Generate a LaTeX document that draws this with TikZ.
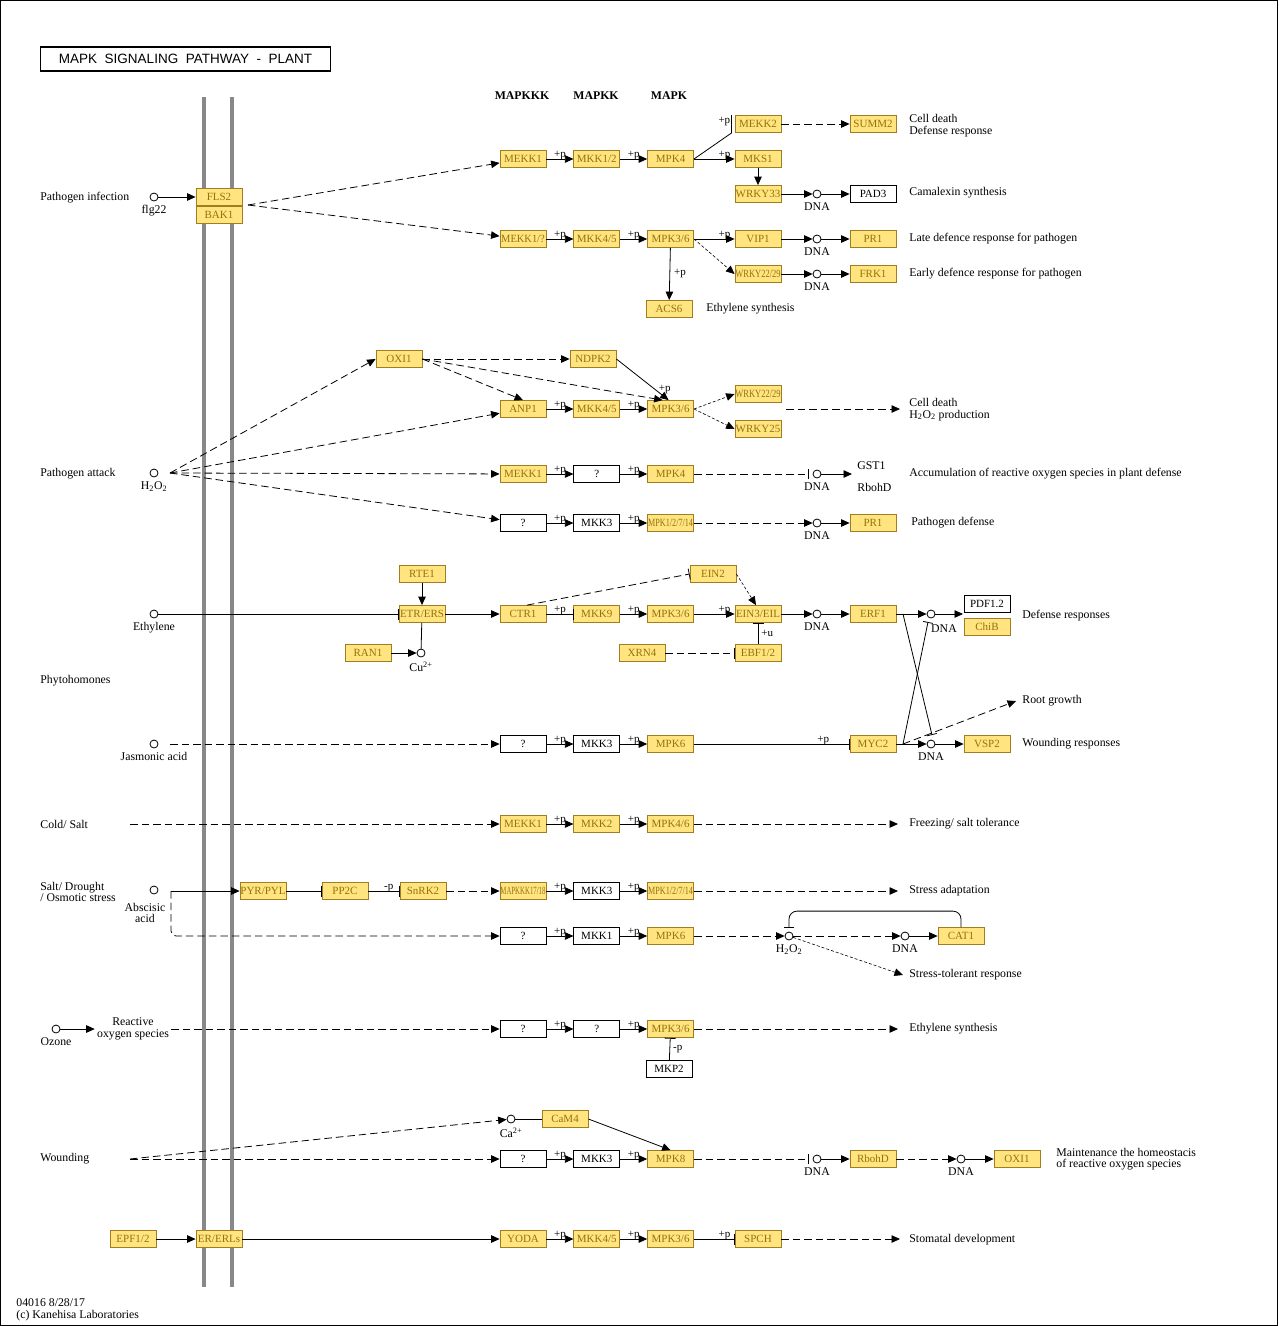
\documentclass[tikz,border=0pt]{standalone}
\usepackage{fontspec}
\setmainfont{Liberation Serif}
\newfontfamily\titlefont{Liberation Sans}
\usepackage{graphicx}
\usetikzlibrary{arrows.meta, positioning}
\definecolor{keggfill}{RGB}{255,228,128}
\definecolor{keggline}{RGB}{160,125,30}
\definecolor{keggtext}{RGB}{150,115,10}
\definecolor{membrane}{RGB}{136,136,136}
\newcommand{\gfont}{\fontsize{11}{11}\selectfont}
\newcommand{\lfont}{\fontsize{11.8}{11.5}\selectfont}
\newcommand{\sq}[2]{\scalebox{#1}[1]{#2}}

\begin{document}
\begin{tikzpicture}[
        x=1pt, y=-1pt,
        line width=0.8pt,
        node distance=27pt,
        gene/.style={rectangle, draw=keggline, fill=keggfill, text=keggtext, minimum width=46pt, minimum height=17pt, inner sep=0pt, font=\gfont},
        wbox/.style={rectangle, draw, fill=white, minimum width=46pt, minimum height=17pt, inner sep=0pt, font=\gfont},
        cpd/.style={circle, draw, fill=white, minimum size=8pt, inner sep=0pt},
        lbl/.style={font=\lfont, inner sep=0pt, anchor=west, align=left},
        txt/.style={font=\lfont, inner sep=0pt, align=center},
        plab/.style={font=\gfont, inner sep=0pt, anchor=base, yshift=2pt},
        act/.style={-{Triangle[length=8.5pt, width=7.5pt]}},
        inh/.style={-{Bar[width=11pt]}},
        dsh/.style={dash pattern=on 7.5pt off 4pt},
        dotln/.style={dash pattern=on 3pt off 2pt, line width=0.6pt},
        membr/.style={draw=membrane, line width=4pt}
    ]
    \useasboundingbox (0,0) rectangle (1278,1326);
    \draw[line width=1pt] (0.5,0.5) rectangle (1277.5,1325.5);

    % title and membrane
    \node (title) [draw, line width=1.6pt, minimum width=290pt, minimum height=24pt, inner sep=0pt, font=\titlefont\fontsize{13.5}{13.5}\selectfont] at (185.5,59) {MAPK\ \ SIGNALING\ \ PATHWAY\ \ -\ \ PLANT};
    \draw[membr] (204,97) -- (204,1287);
    \draw[membr] (232,97) -- (232,1287);

    \node[txt, font=\lfont\bfseries] at (522,96) {MAPKKK};
    \node[txt, font=\lfont\bfseries] at (596,96) {MAPKK};
    \node[txt, font=\lfont\bfseries] at (669,96) {MAPK};

    % pathogen infection
    \node[lbl] at (40,198) {Pathogen infection};
    \node (flg) [cpd] at (154,197) {};
    \node[txt, below=3pt of flg] {flg22};
    \node (fls) [gene] at (219,197) {FLS2};
    \node (bak) [gene, below=0pt of fls] {BAK1};
    \coordinate (flsout) at (248,205);

    \node (bmekk) [gene] at (523,159) {MEKK1};
    \node (bmkk) [gene, right=of bmekk] {MKK1/2};
    \node (bmpk) [gene, right=of bmkk] {MPK4};
    \node (bmekkb) [gene] at (758,124) {MEKK2};
    \node (bmks) [gene] at (758,159) {MKS1};
    \node (bwrky) [gene] at (758,194) {WRKY33};
    \node (bsumm) [gene] at (873,124) {SUMM2};
    \node (bdna) [cpd] at (817,194) {};
    \node[txt, below=4pt of bdna] {DNA};
    \node (bpad) [wbox] at (873,194) {PAD3};

    \node (dmekk) [gene] at (523,239) {\sq{0.95}{MEKK1/?}};
    \node (dmkk) [gene, right=of dmekk] {MKK4/5};
    \node (dmpk) [gene, right=of dmkk] {MPK3/6};
    \node (dvip) [gene] at (758,239) {VIP1};
    \node (ewrky) [gene] at (758,274) {\sq{0.77}{WRKY22/29}};
    \node (facs) [gene] at (669,309) {ACS6};
    \node (ddna) [cpd] at (817,239) {};
    \node[txt, below=4pt of ddna] {DNA};
    \node (dpr) [gene] at (873,239) {PR1};
    \node (edna) [cpd] at (817,274) {};
    \node[txt, below=4pt of edna] {DNA};
    \node (efrk) [gene] at (873,274) {FRK1};

    \node[lbl] at (909,125.5) {Cell death\\Defense response};
    \node[lbl] at (909,193) {Camalexin synthesis};
    \node[lbl] at (909,239) {Late defence response for pathogen};
    \node[lbl] at (909,274) {Early defence response for pathogen};
    \node[lbl] at (706,309) {Ethylene synthesis};

    \draw[act] (flg) -- (fls);
    \draw[dsh, act] (flsout) -- (bmekk);
    \draw[dsh, act] (flsout) -- (dmekk);
    \draw[act] (bmekk) -- node[plab] {+p} (bmkk);
    \draw[act] (bmkk) -- node[plab] {+p} (bmpk);
    \draw[act] (bmpk) -- node[plab, pos=0.75] {+p} (bmks);
    \draw (bmpk.east) -- ([xshift=-3pt]bmekkb.south west);
    \draw ([xshift=-3pt]bmekkb.north west) -- ([xshift=-3pt]bmekkb.south west);
    \node[font=\gfont, inner sep=0pt, anchor=south east] at ([xshift=-4pt, yshift=-2pt]bmekkb.west) {+p};
    \draw[dsh, act] (bmekkb) -- (bsumm);
    \draw[act] (bmks) -- (bwrky);
    \draw[act] (bwrky) -- (bdna);
    \draw[act] (bdna) -- (bpad);
    \draw[act] (dmekk) -- node[plab] {+p} (dmkk);
    \draw[act] (dmkk) -- node[plab] {+p} (dmpk);
    \draw[act] (dmpk) -- node[plab, pos=0.75] {+p} (dvip);
    \draw[dotln, act] (dmpk.east) -- (ewrky.west);
    \draw[act] (dmpk) -- node[font=\gfont, inner sep=0pt, right=4pt] {+p} (facs);
    \draw[act] (dvip) -- (ddna);
    \draw[act] (ddna) -- (dpr);
    \draw[act] (ewrky) -- (edna);
    \draw[act] (edna) -- (efrk);

    % pathogen attack
    \node[lbl] at (40,474) {Pathogen attack};
    \node (hh) [cpd] at (154,473) {};
    \node[txt, below=4pt of hh] {H\textsubscript{2}O\textsubscript{2}};
    \coordinate (hhout) at (170,473);

    \node (goxi) [gene] at (399,359) {OXI1};
    \node (gndpk) [gene] at (593,359) {NDPK2};
    \node (ianp) [gene] at (523,409) {ANP1};
    \node (imkk) [gene, right=of ianp] {MKK4/5};
    \node (impk) [gene, right=of imkk] {MPK3/6};
    \node (hwrky) [gene] at (758,394) {\sq{0.77}{WRKY22/29}};
    \node (jwrky) [gene] at (758,429) {WRKY25};
    \coordinate (istart) at (786,409);
    \coordinate (iend) at (900,409);
    \node[lbl] at (909,409.5) {Cell death\\H\textsubscript{2}O\textsubscript{2} production};

    \node (kmekk) [gene] at (523,474) {MEKK1};
    \node (kq) [wbox, right=of kmekk] {?};
    \node (kmpk) [gene, right=of kq] {MPK4};
    \node (kdna) [cpd] at (817,474) {};
    \node[txt, below=4pt of kdna] {DNA};
    \coordinate (kend) at (852,474);
    \node[lbl] at (857,466) {GST1};
    \node[lbl] at (857,487) {RbohD};
    \node[lbl] at (909,474) {Accumulation of reactive oxygen species in plant defense};

    \node (lq) [wbox] at (523,523) {?};
    \node (lmkk) [wbox, right=of lq] {MKK3};
    \node (lmpk) [gene, right=of lmkk] {\sq{0.74}{MPK1/2/7/14}};
    \node (ldna) [cpd] at (817,523) {};
    \node[txt, below=4pt of ldna] {DNA};
    \node (lpr) [gene] at (873,523) {PR1};
    \node[lbl] at (911,523) {Pathogen defense};

    \draw[dsh, act] (hhout) -- (goxi.west);
    \draw[dsh, act] (hhout) -- (ianp);
    \draw[dsh, act] (hhout) -- (kmekk);
    \draw[dsh, act] (hhout) -- (lq);
    \draw[dsh, act] (goxi) -- (gndpk);
    \draw[dsh, act] (goxi.east) -- (ianp.north);
    \draw[dsh, act] (goxi.east) -- ([xshift=-8pt]impk.north);
    \draw[act] (gndpk.east) -- node[font=\gfont, inner sep=0pt, pos=0.75, right=3pt] {+p} ([xshift=-2pt]impk.north);
    \draw[act] (ianp) -- node[plab] {+p} (imkk);
    \draw[act] (imkk) -- node[plab] {+p} (impk);
    \draw[dotln, act] (impk.east) -- (hwrky.west);
    \draw[dotln, act] (impk.east) -- (jwrky.west);
    \draw[dsh, act] (istart) -- (iend);
    \draw[act] (kmekk) -- node[plab] {+p} (kq);
    \draw[act] (kq) -- node[plab] {+p} (kmpk);
    \draw[dsh, -{Bar[width=10pt]}] (kmpk) -- ([xshift=-4pt]kdna.west);
    \draw[act] (kdna) -- (kend);
    \draw[act] (lq) -- node[plab] {+p} (lmkk);
    \draw[act] (lmkk) -- node[plab] {+p} (lmpk);
    \draw[dsh, act] (lmpk) -- (ldna);
    \draw[act] (ldna) -- (lpr);

    % ethylene
    \node (eth) [cpd] at (154,614) {};
    \node[txt, below=4pt of eth] {Ethylene};
    \node (mrte) [gene] at (422,574) {RTE1};
    \node (netr) [gene] at (422,614) {ETR/ERS};
    \node (ocu) [cpd] at (421,653) {};
    \node[txt, below=4pt of ocu] {Cu\textsuperscript{2+}};
    \node (oran) [gene] at (368,653) {RAN1};
    \node (nctr) [gene] at (523,614) {CTR1};
    \node (nmkk) [gene, right=of nctr] {MKK9};
    \node (nmpk) [gene, right=of nmkk] {MPK3/6};
    \node (mein) [gene] at (713,574) {EIN2};
    \node (nein) [gene] at (758,614) {EIN3/EIL};
    \node (oxrn) [gene] at (642,653) {XRN4};
    \node (oebf) [gene] at (758,653) {EBF1/2};
    \node (ndna) [cpd] at (817,614) {};
    \node[txt, below=4pt of ndna] {DNA};
    \node (nerf) [gene] at (873,614) {ERF1};
    \coordinate (nerfj) at (903,614);
    \node (ndnab) [cpd] at (931,614) {};
    \node[txt] at (944,629) {DNA};
    \coordinate (nbar) at (928,622);
    \coordinate (ndef) at (963,614);
    \node (npdf) [wbox] at (987,604) {PDF1.2};
    \node (nchib) [gene] at (987,627) {ChiB};
    \node[lbl] at (1022,616) {Defense responses};

    \draw[inh] (eth) -- (netr);
    \draw[act] (mrte) -- (netr);
    \draw (netr) -- (ocu);
    \draw[act] (oran) -- (ocu);
    \draw[act] (netr) -- (nctr);
    \draw[inh] (nctr) -- node[plab] {+p} (nmkk);
    \draw[act] (nmkk) -- node[plab] {+p} (nmpk);
    \draw[act] (nmpk) -- node[plab, pos=0.75] {+p} (nein);
    \draw[dsh, inh] ([xshift=4pt]nctr.north) -- (mein.west);
    \draw[dotln, act] (mein.east) -- ([xshift=-2pt]nein.north);
    \draw[dsh, inh] (oxrn) -- (oebf);
    \draw[inh] (oebf) -- node[font=\gfont, inner sep=0pt, right=3pt] {+u} (nein);
    \draw[act] (nein) -- (ndna);
    \draw[act] (ndna) -- (nerf);
    \draw (nerf) -- (nerfj);
    \draw[act] (nerfj) -- (ndnab);
    \draw[act] (ndnab) -- (ndef);

    \node[lbl] at (40,681) {Phytohomones};

    % jasmonic acid
    \node (ja) [cpd] at (154,744) {};
    \node[txt, below=4pt of ja] {Jasmonic acid};
    \coordinate (jaout) at (170,744);
    \node (pq) [wbox] at (523,744) {?};
    \node (pmkk) [wbox, right=of pq] {MKK3};
    \node (pmpk) [gene, right=of pmkk] {MPK6};
    \node (pmyc) [gene] at (873,744) {MYC2};
    \coordinate (pmycj) at (903,744);
    \node (pdna) [cpd] at (931,744) {};
    \node[txt, below=4pt of pdna] {DNA};
    \coordinate (pbar) at (932,735);
    \node (pvsp) [gene] at (987,744) {VSP2};
    \coordinate (proot) at (1016,701);
    \node[lbl] at (1022,701) {Root growth};
    \node[lbl] at (1022,744) {Wounding responses};

    \draw[dsh, act] (jaout) -- (pq);
    \draw[act] (pq) -- node[plab] {+p} (pmkk);
    \draw[act] (pmkk) -- node[plab] {+p} (pmpk);
    \draw[inh] (pmpk) -- node[plab, pos=0.83] {+p} (pmyc);
    \draw (pmyc) -- (pmycj);
    \draw[act] (pmycj) -- (pdna);
    \draw[act] (pdna) -- (pvsp);
    \draw[dsh, act] (pmycj) -- (proot);
    \draw[-{Bar[width=10pt]}] (nerfj) -- (pbar);
    \draw[-{Bar[width=10pt]}] (pmycj) -- (nbar);

    % cold / salt
    \node[lbl] at (40,824) {Cold/ Salt};
    \coordinate (qstart) at (130,824);
    \node (qmekk) [gene] at (523,824) {MEKK1};
    \node (qmkk) [gene, right=of qmekk] {MKK2};
    \node (qmpk) [gene, right=of qmkk] {MPK4/6};
    \coordinate (qend) at (898,824);
    \node[lbl] at (909,824) {Freezing/ salt tolerance};
    \draw[dsh, act] (qstart) -- (qmekk);
    \draw[act] (qmekk) -- node[plab] {+p} (qmkk);
    \draw[act] (qmkk) -- node[plab] {+p} (qmpk);
    \draw[dsh, act] (qmpk) -- (qend);

    % salt / drought
    \node[lbl] at (40,892) {Salt/ Drought\\/ Osmotic stress};
    \node (aba) [cpd] at (154,890) {};
    \node[txt] at (145,913) {Abscisic\\acid};
    \coordinate (abaj) at (171,891);
    \node (rpyr) [gene] at (263,891) {PYR/PYL};
    \node (rpp) [gene] at (345,891) {PP2C};
    \node (rsnr) [gene] at (423,891) {SnRK2};
    \node (rmap) [gene] at (523,891) {\sq{0.62}{MAPKKK17/18}};
    \node (rmkk) [wbox, right=of rmap] {MKK3};
    \node (rmpk) [gene, right=of rmkk] {\sq{0.74}{MPK1/2/7/14}};
    \coordinate (rend) at (898,891);
    \node[lbl] at (909,891) {Stress adaptation};

    \node (sq) [wbox] at (523,936) {?};
    \node (smkk) [wbox, right=of sq] {MKK1};
    \node (smpk) [gene, right=of smkk] {MPK6};
    \node (shh) [cpd] at (789,936) {};
    \node[txt, below=4pt of shh] {H\textsubscript{2}O\textsubscript{2}};
    \node (sdna) [cpd] at (905,936) {};
    \node[txt, below=4pt of sdna] {DNA};
    \node (scat) [gene] at (961,936) {CAT1};
    \coordinate (send) at (903,975);
    \node[lbl] at (909,975) {Stress-tolerant response};

    \draw[act] (abaj) -- (rpyr);
    \draw[dsh, act, rounded corners=5pt] (abaj) |- (sq);
    \draw[inh] (rpyr) -- (rpp);
    \draw[inh] (rpp) -- node[plab, pos=0.65] {-p} (rsnr);
    \draw[dsh, act] (rsnr) -- (rmap);
    \draw[act] (rmap) -- node[plab] {+p} (rmkk);
    \draw[act] (rmkk) -- node[plab] {+p} (rmpk);
    \draw[dsh, act] (rmpk) -- (rend);
    \draw[act] (sq) -- node[plab] {+p} (smkk);
    \draw[act] (smkk) -- node[plab] {+p} (smpk);
    \draw[dsh, act] (smpk) -- (shh);
    \draw[dsh, act] (shh) -- (sdna);
    \draw[act] (sdna) -- (scat);
    \draw[-{Bar[width=10pt]}, rounded corners=8pt] (scat.north) -- ++(0,-16) -| ([yshift=4pt]shh.north);
    \draw[dotln, act] (shh) -- (send);

    % ozone
    \node (oz) [cpd] at (56,1029) {};
    \node[txt, below=4pt of oz] {Ozone};
    \node (ros) [txt, inner sep=2pt] at (133,1029) {Reactive\\oxygen species};
    \node (tq) [wbox] at (523,1029) {?};
    \node (tqb) [wbox, right=of tq] {?};
    \node (tmpk) [gene, right=of tqb] {MPK3/6};
    \node (umkp) [wbox] at (669,1069) {MKP2};
    \coordinate (tend) at (898,1029);
    \node[lbl] at (909,1029) {Ethylene synthesis};
    \draw[act] (oz) -- (ros);
    \draw[dsh, act] (ros) -- (tq);
    \draw[act] (tq) -- node[plab] {+p} (tqb);
    \draw[act] (tqb) -- node[plab] {+p} (tmpk);
    \draw[inh] (umkp) -- node[font=\gfont, inner sep=0pt, right=3pt] {-p} (tmpk);
    \draw[dsh, act] (tmpk) -- (tend);

    % wounding
    \node[lbl] at (40,1159) {Wounding};
    \coordinate (wstart) at (130,1159);
    \node (vca) [cpd] at (511,1119) {};
    \node[txt, below=4pt of vca] {Ca\textsuperscript{2+}};
    \node (vcam) [gene] at (565,1119) {CaM4};
    \node (wq) [wbox] at (523,1159) {?};
    \node (wmkk) [wbox, right=of wq] {MKK3};
    \node (wmpk) [gene, right=of wmkk] {MPK8};
    \node (wdna) [cpd] at (817,1159) {};
    \node[txt, below=4pt of wdna] {DNA};
    \node (wrboh) [gene] at (873,1159) {RbohD};
    \node (wdnab) [cpd] at (961,1159) {};
    \node[txt, below=4pt of wdnab] {DNA};
    \node (woxi) [gene] at (1017,1159) {OXI1};
    \node[lbl] at (1056,1159) {Maintenance the homeostacis\\of reactive oxygen species};

    \draw[dsh, act] (wstart) -- (vca);
    \draw[dsh, act] (wstart) -- (wq);
    \draw (vca) -- (vcam);
    \draw[act] (vcam.east) -- (wmpk.north);
    \draw[act] (wq) -- node[plab] {+p} (wmkk);
    \draw[act] (wmkk) -- node[plab] {+p} (wmpk);
    \draw[dsh, -{Bar[width=10pt]}] (wmpk) -- ([xshift=-4pt]wdna.west);
    \draw[act] (wdna) -- (wrboh);
    \draw[dsh, act] (wrboh) -- (wdnab);
    \draw[act] (wdnab) -- (woxi);

    % stomata
    \node (xepf) [gene] at (133,1239) {EPF1/2};
    \node (xer) [gene] at (219,1239) {ER/ERLs};
    \node (xyoda) [gene] at (523,1239) {YODA};
    \node (xmkk) [gene, right=of xyoda] {MKK4/5};
    \node (xmpk) [gene, right=of xmkk] {MPK3/6};
    \node (xspch) [gene] at (758,1239) {SPCH};
    \coordinate (xend) at (900,1239);
    \node[lbl] at (909,1240) {Stomatal development};
    \draw[act] (xepf) -- (xer);
    \draw[act] (xer) -- (xyoda);
    \draw[act] (xyoda) -- node[plab] {+p} (xmkk);
    \draw[act] (xmkk) -- node[plab] {+p} (xmpk);
    \draw[inh] (xmpk) -- node[plab, pos=0.75] {+p} (xspch);
    \draw[dsh, act] (xspch) -- (xend);

    \node[lbl] at (16,1310) {04016 8/28/17\\(c) Kanehisa Laboratories};
\end{tikzpicture}
\end{document}
